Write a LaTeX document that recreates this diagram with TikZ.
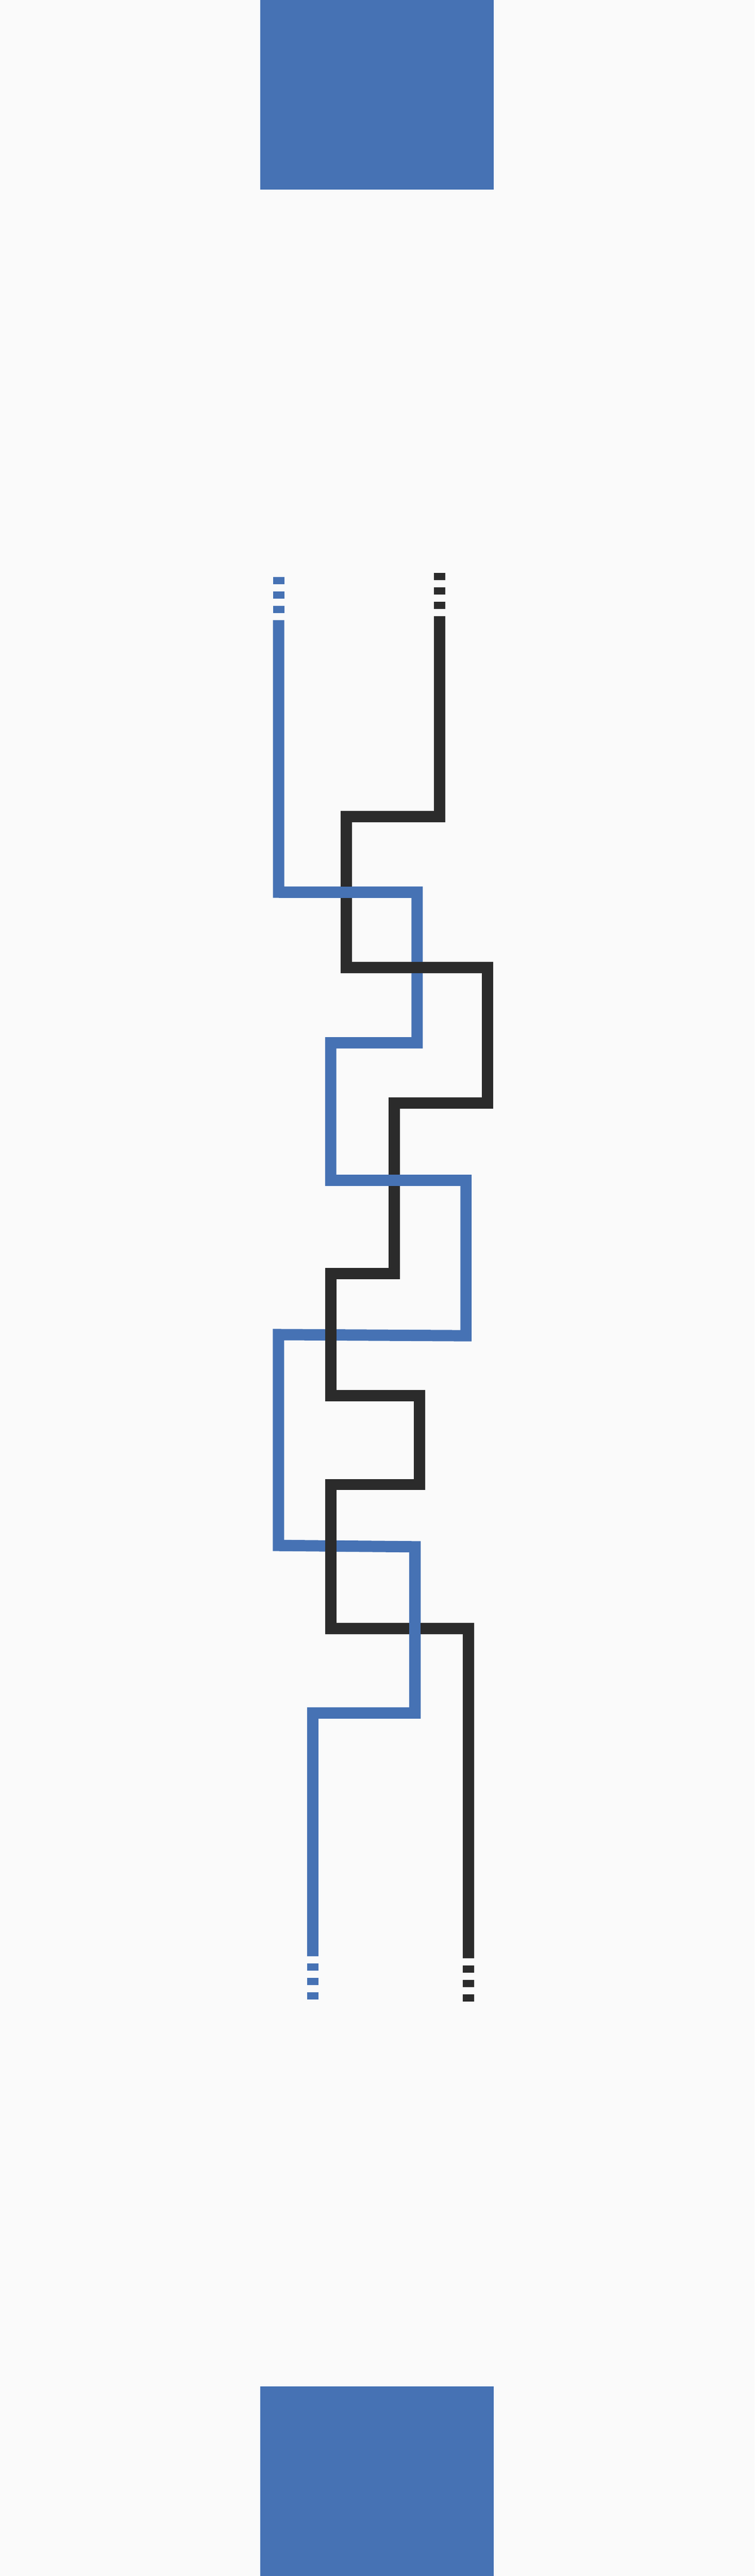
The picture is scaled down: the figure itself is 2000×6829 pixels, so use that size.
\documentclass[tikz,border=0pt]{standalone}
\definecolor{StrandBlue}{RGB}{70,114,180}
\definecolor{StrandDark}{RGB}{43,43,43}
\definecolor{PaperGrey}{RGB}{250,250,250}
\usetikzlibrary{calc}

\begin{document}
\begin{tikzpicture}[x=0.01cm,y=-0.01cm,
    strand/.style={line width=0.3cm,line join=miter},
    tail/.style={line width=0.3cm}]
    % page and the two blocks
    \fill[PaperGrey] (0,0) rectangle (2000,6829);
    \fill[StrandBlue] (690,0) rectangle (1309,502);
    \fill[StrandBlue] (690,6326) rectangle (1309,6829);
    % blue strand corners
    \coordinate (b0) at (738.5,1644);   \coordinate (b1) at (738.5,2365);
    \coordinate (b2) at (1105.5,2365);  \coordinate (b3) at (1105.5,2764.5);
    \coordinate (b4) at (876.5,2764.5); \coordinate (b5) at (876.5,3129);
    \coordinate (b6) at (1235,3129);    \coordinate (b7) at (1235,3541);
    \coordinate (b8) at (738,3538);     \coordinate (b9) at (738,4097);
    \coordinate (b10) at (1100,4100.5); \coordinate (b11) at (1100,4541);
    \coordinate (b12) at (829,4541);    \coordinate (b13) at (829,5186);
    % dark strand corners
    \coordinate (k0) at (1164.5,1633);   \coordinate (k1) at (1164.5,2164.5);
    \coordinate (k2) at (917.5,2164.5);  \coordinate (k3) at (917.5,2564.5);
    \coordinate (k4) at (1291.5,2564.5); \coordinate (k5) at (1291.5,2923.5);
    \coordinate (k6) at (1044.5,2923.5); \coordinate (k7) at (1044.5,3376.5);
    \coordinate (k8) at (876.5,3376.5);  \coordinate (k9) at (876.5,3700);
    \coordinate (k10) at (1111.5,3700);  \coordinate (k11) at (1111.5,3935.5);
    \coordinate (k12) at (876.5,3935.5); \coordinate (k13) at (876.5,4317.5);
    \coordinate (k14) at (1241.5,4317.5);\coordinate (k15) at (1241.5,5191);
    % loose ends
    \foreach \y in {1530,1568,1606}
      \draw[tail,StrandBlue] (738.5,\y)--++(0,19);
    \foreach \y in {5205,5243,5281}
      \draw[tail,StrandBlue] (829,\y)--++(0,19);
    \foreach \y in {1519,1557,1595}
      \draw[tail,StrandDark] (1164.5,\y)--++(0,19);
    \foreach \y in {5211,5249,5287}
      \draw[tail,StrandDark] (1241.5,\y)--++(0,19);
    % the two strands
    \draw[strand,StrandBlue] (b0)--(b1)--(b2)--(b3)--(b4)--(b5)--(b6)--(b7)
      --(b8)--(b9)--(b10)--(b11)--(b12)--(b13);
    \draw[strand,StrandDark] (k0)--(k1)--(k2)--(k3)--(k4)--(k5)--(k6)--(k7)
      --(k8)--(k9)--(k10)--(k11)--(k12)--(k13)--(k14)--(k15);
    % blue passes over here
    \draw[strand,StrandBlue] (b1)--(b2);
    \draw[strand,StrandBlue] (b5)--(b6);
    \draw[strand,StrandBlue] (b10)--(b11);
\end{tikzpicture}
\end{document}
